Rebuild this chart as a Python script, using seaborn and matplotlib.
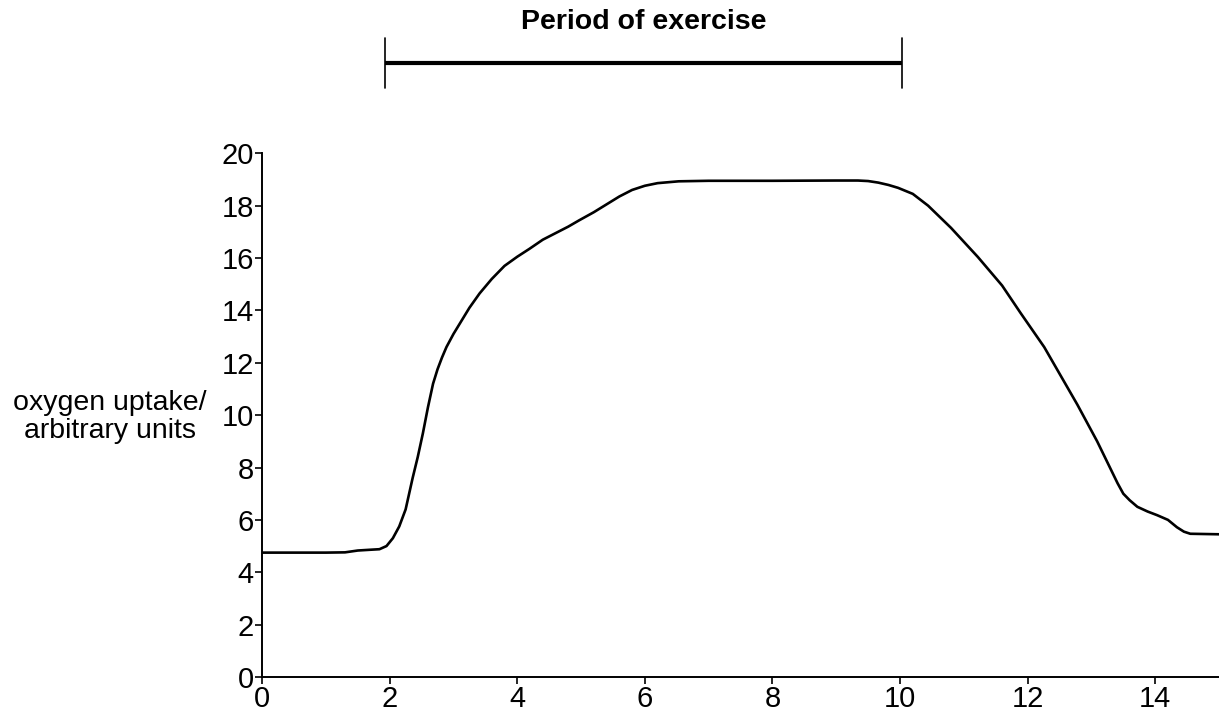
import seaborn as sns
import matplotlib.pyplot as plt
import pandas as pd

sns.set_style('ticks')
plt.rcParams['font.family'] = ['Liberation Sans', 'DejaVu Sans']
plt.rcParams['text.color'] = 'black'

# values
time_min = [0, 0.5, 1.0, 1.3, 1.5, 1.7, 1.84, 1.95, 2.05, 2.15, 2.25, 2.36, 2.44, 2.52,
            2.6, 2.68, 2.75, 2.82, 2.89, 3.0, 3.1, 3.25, 3.41, 3.6, 3.8, 4.0, 4.19, 4.4,
            4.6, 4.8, 4.97, 5.2, 5.4, 5.6, 5.8, 6.0, 6.2, 6.53, 7.0, 8.0, 9.0, 9.34,
            9.5, 9.66, 9.82, 9.97, 10.2, 10.44, 10.8, 11.22, 11.6, 11.89, 12.26, 12.78,
            13.09, 13.25, 13.41, 13.5, 13.6, 13.72, 13.88, 14.03, 14.2, 14.34, 14.45,
            14.55, 15.0]
oxygen = [4.75, 4.75, 4.75, 4.76, 4.83, 4.86, 4.88, 5.0, 5.3, 5.75, 6.4, 7.6, 8.4, 9.3,
          10.3, 11.2, 11.75, 12.2, 12.6, 13.1, 13.5, 14.1, 14.65, 15.2, 15.7, 16.05,
          16.35, 16.7, 16.95, 17.2, 17.44, 17.75, 18.05, 18.35, 18.6, 18.76, 18.86,
          18.93, 18.95, 18.95, 18.96, 18.96, 18.94, 18.88, 18.79, 18.68, 18.45, 18.0,
          17.15, 16.04, 14.95, 13.9, 12.6, 10.4, 9.0, 8.2, 7.4, 7.0, 6.75, 6.5, 6.32,
          6.18, 6.0, 5.72, 5.55, 5.47, 5.45]
exercise_start = 1.93
exercise_end = 10.03

df = pd.DataFrame({'time': time_min, 'oxygen': oxygen})

fig = plt.figure(figsize=(12.19, 7.13), dpi=100)
ax = fig.add_axes([0.215, 0.0505, 0.785, 0.7345])

sns.lineplot(data=df, x='time', y='oxygen', ax=ax, color='black', linewidth=1.9)

ax.set_xlim(0, 15)
ax.set_ylim(0, 20)
ax.set_xticks(range(0, 15, 2))
ax.set_yticks(range(0, 21, 2))
ax.set_xlabel('')
ax.set_ylabel('')
sns.despine(ax=ax)
for side in ['left', 'bottom']:
    ax.spines[side].set_linewidth(1.4)
    ax.spines[side].set_color('black')
ax.tick_params(axis='both', length=5, width=1.2, color='black', labelsize=21,
               labelcolor='black', pad=1)

# exercise period bar above the plot
ax.plot([exercise_start, exercise_end], [23.44, 23.44], color='black', lw=3, clip_on=False,
        solid_capstyle='butt')
for xe in [exercise_start, exercise_end]:
    ax.plot([xe, xe], [22.48, 24.39], color='black', lw=1.2, clip_on=False)
ax.text((exercise_start + exercise_end) / 2, 25.0, 'Period of exercise', ha='center',
        va='center', fontsize=20.5, fontweight='bold', color='black')

fig.text(110 / 1219, 1 - 417 / 713, 'oxygen uptake/\narbitrary units', ha='center',
         va='center', multialignment='center', fontsize=20.5, linespacing=1.05,
         color='black')

fig.savefig('out.png', dpi=100)
